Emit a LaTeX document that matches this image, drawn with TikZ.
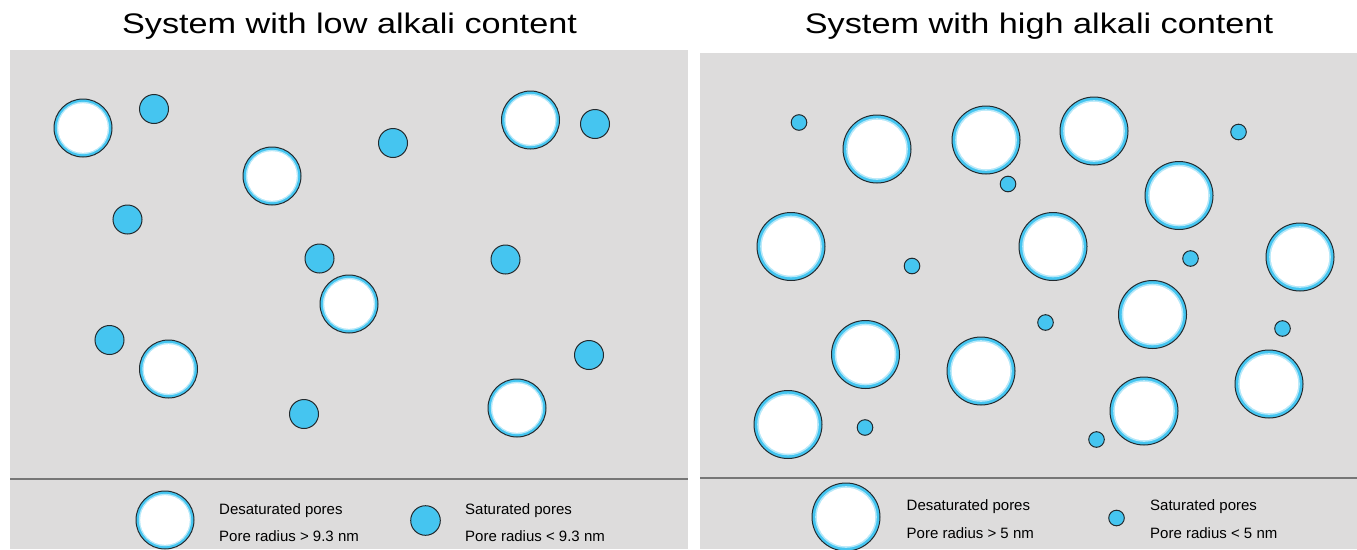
\documentclass[tikz,border=0pt]{standalone}
\usepackage{fontspec}
\usepackage{tikz}
\usetikzlibrary{positioning}
\newfontfamily\titlefont[FakeStretch=1.21]{Liberation Sans}
\newfontfamily\legendfont{Liberation Sans}
\definecolor{panelgray}{RGB}{221,220,220}
\definecolor{poreblue}{RGB}{69,197,240}
\definecolor{poreedge}{RGB}{35,42,46}
\definecolor{divgray}{RGB}{118,118,118}
\tikzset{
    panel/.style={
           fill=panelgray,
           draw=none},
    desatring/.style={
           fill=poreblue,
           draw=poreedge,
           line width=1pt},
    desatfade/.style={
           fill=poreblue!40!white},
    desatcore/.style={
           fill=white},
    satpore/.style={
           fill=poreblue,
           draw=poreedge,
           line width=1pt},
    divider/.style={
           draw=divgray,
           line width=1.6pt},
    heading/.style={
           font=\fontsize{28.3pt}{30pt}\titlefont,
           anchor=base,
           inner sep=0pt},
    legendtext/.style={
           font=\fontsize{15pt}{17pt}\legendfont,
           anchor=base west,
           inner sep=0pt}
}

\begin{document}
\begin{tikzpicture}[x=1pt, y=-1pt]
        \useasboundingbox (0,0) rectangle (1357,549);
        \fill[white] (0,0) rectangle (1357,549);

        \node[heading] (lowtitle) at (349.5,33) {System with low alkali content};
        \node[heading] (hightitle) at (1039,33) {System with high alkali content};

        \fill[panel] (10,50) rectangle (688,549);
        \fill[panel] (700,53) rectangle (1357,549);
        \draw[divider] (10,479) -- (688,479);
        \draw[divider] (700,478) -- (1357,478);

        \foreach \px/\py in {83/128, 272/176, 530.5/120, 349/304, 168.5/369, 517/408, 165/520}{
            \filldraw[desatring] (\px,\py) circle (29);
            \fill[desatfade] (\px,\py) circle (26.2);
            \fill[desatcore] (\px,\py) circle (24.8);
        }
        \foreach \px/\py in {154/109, 393/143, 595/124, 127.5/219.5, 319.5/258.5,
                             505.5/259.5, 109.5/340, 589/355, 304/414}{
            \filldraw[satpore] (\px,\py) circle (14.5);
        }
        \filldraw[satpore] (425.5,520.5) circle (14.8);

        \foreach \px/\py in {877/149, 986/140, 1094/131, 1179/195.5, 791/246.5,
                             1053/246.5, 1300/257, 865.5/354.5, 1152.5/314.5,
                             981/371, 1269/384, 788/424.5, 1144/411, 846/517}{
            \filldraw[desatring] (\px,\py) circle (34);
            \fill[desatfade] (\px,\py) circle (30.8);
            \fill[desatcore] (\px,\py) circle (29.2);
        }
        \foreach \px/\py in {799/122.5, 1238.5/132, 1008/184, 912/266, 1190.5/258.5,
                             1045.5/322.5, 1282.5/328.5, 865/427.5, 1096.5/439.5, 1116.5/518}{
            \filldraw[satpore] (\px,\py) circle (7.8);
        }

        \node[legendtext] (lowdesat) at (219,514) {Desaturated pores};
        \node[legendtext] (lowdesatr) at (219,541) {Pore radius > 9.3 nm};
        \node[legendtext] (lowsat) at (465,514) {Saturated pores};
        \node[legendtext] (lowsatr) at (465,541) {Pore radius < 9.3 nm};

        \node[legendtext] (highdesat) at (906.5,510.5) {Desaturated pores};
        \node[legendtext] (highdesatr) at (906.5,538) {Pore radius > 5 nm};
        \node[legendtext] (highsat) at (1150,510.5) {Saturated pores};
        \node[legendtext] (highsatr) at (1150,538) {Pore radius < 5 nm};
    \end{tikzpicture}
\end{document}
